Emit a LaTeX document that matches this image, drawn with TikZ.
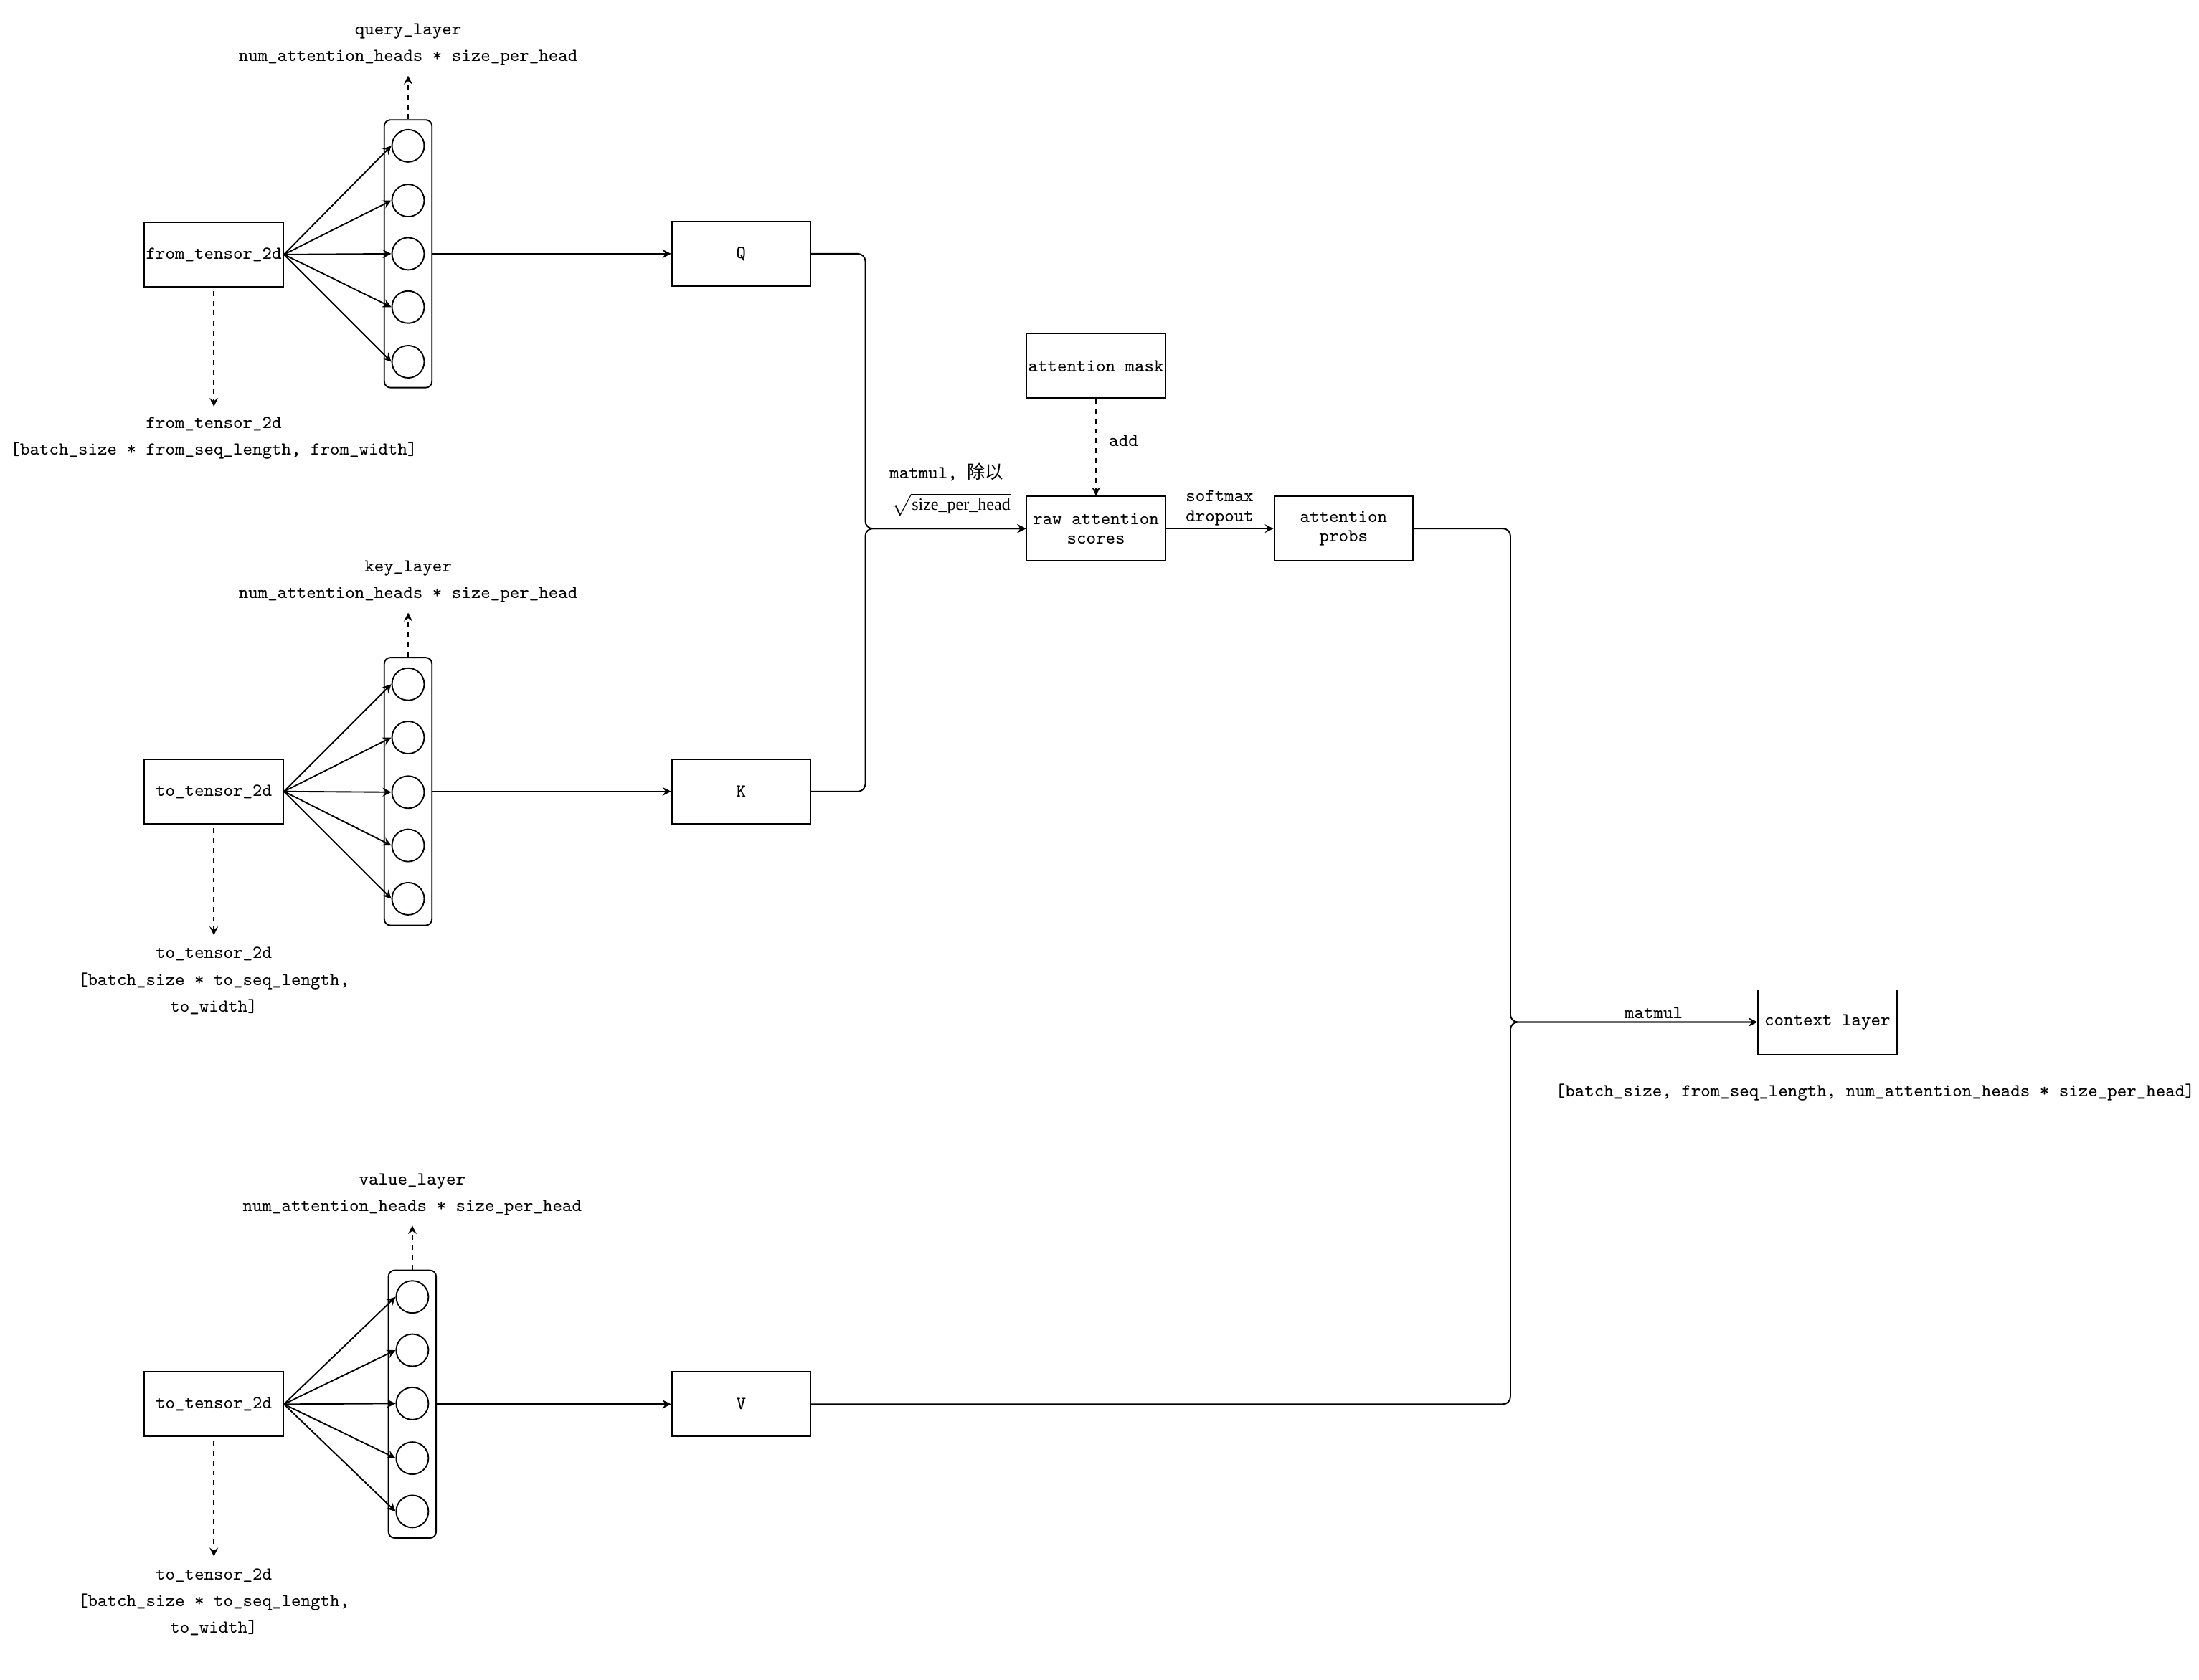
\documentclass[tikz,border=0pt]{standalone}
\usepackage{fontspec}
\usepackage{amsmath}
\newfontfamily\cjk{Noto Sans CJK SC}
\newfontfamily\serif{Liberation Serif}

\begin{document}
\begin{tikzpicture}[x=0.02cm, y=-0.02cm, line width=0.55pt,
                    arrow/.style = {-stealth},
                    dotarrow/.style = {-stealth, dash pattern=on 2pt off 2pt},
                    box/.style = {draw, minimum width=1.98cm, minimum height=0.92cm, inner sep=0pt, align=center, font=\fontsize{7.4}{8}\selectfont\ttfamily},
                    lbl/.style = {align=center, inner sep=0pt, font=\fontsize{7.4}{10.8}\selectfont\ttfamily},
                    tag/.style = {align=center, inner sep=1pt, font=\fontsize{7.4}{8}\selectfont\ttfamily},
                    layer/.style = {draw, rounded corners=2.5pt, minimum width=0.68cm, minimum height=3.82cm, inner sep=0pt},
                    unit/.style = {draw, circle, minimum size=0.46cm, inner sep=0pt}]
                    \useasboundingbox (0,0) rectangle (1568,1198);

                    % query row
                    \node [box] (from) at (152.5,181.5) {from\_tensor\_2d};
                    \node [layer] (ql) at (291,181) {};
                    \node [unit] (q1) at (291,104) {};
                    \node [unit] (q2) at (291,143) {};
                    \node [unit] (q3) at (291,181) {};
                    \node [unit] (q4) at (291,219) {};
                    \node [unit] (q5) at (291,258) {};
                    \node [box] (Q) at (528.5,181) {Q};

                    \draw[arrow] (from.east) -- (q1.west);
                    \draw[arrow] (from.east) -- (q2.west);
                    \draw[arrow] (from.east) -- (q3.west);
                    \draw[arrow] (from.east) -- (q4.west);
                    \draw[arrow] (from.east) -- (q5.west);
                    \draw[arrow] (ql.east) -- (Q.west);

                    \coordinate (qup) at (291,54);
                    \draw[dotarrow] (ql.north) -- (qup);
                    \node [lbl] (qtxt) at (291,31.5) {query\_layer\\num\_attention\_heads * size\_per\_head};
                    \coordinate (fdown) at (152.5,290);
                    \draw[dotarrow, shorten <=1.5pt] (from.south) -- (fdown);
                    \node [lbl] (ftxt) at (152.5,312.5) {from\_tensor\_2d\\{[}batch\_size * from\_seq\_length, from\_width]};

                    % key row
                    \node [box] (tok) at (152.5,564.5) {to\_tensor\_2d};
                    \node [layer] (kl) at (291,564.5) {};
                    \node [unit] (k1) at (291,488) {};
                    \node [unit] (k2) at (291,526) {};
                    \node [unit] (k3) at (291,565) {};
                    \node [unit] (k4) at (291,603) {};
                    \node [unit] (k5) at (291,641) {};
                    \node [box] (K) at (528.5,564.5) {K};

                    \draw[arrow] (tok.east) -- (k1.west);
                    \draw[arrow] (tok.east) -- (k2.west);
                    \draw[arrow] (tok.east) -- (k3.west);
                    \draw[arrow] (tok.east) -- (k4.west);
                    \draw[arrow] (tok.east) -- (k5.west);
                    \draw[arrow] (kl.east) -- (K.west);

                    \coordinate (kup) at (291,437);
                    \draw[dotarrow] (kl.north) -- (kup);
                    \node [lbl] (ktxt) at (291,415) {key\_layer\\num\_attention\_heads * size\_per\_head};
                    \coordinate (kdown) at (152.5,667);
                    \draw[dotarrow, shorten <=1.5pt] (tok.south) -- (kdown);
                    \node [lbl] (tktxt) at (152.5,699.5) {to\_tensor\_2d\\{[}batch\_size * to\_seq\_length,\\to\_width]};

                    % value row
                    \node [box] (tov) at (152.5,1001.5) {to\_tensor\_2d};
                    \node [layer] (vl) at (294,1001.5) {};
                    \node [unit] (v1) at (294,925) {};
                    \node [unit] (v2) at (294,963) {};
                    \node [unit] (v3) at (294,1001) {};
                    \node [unit] (v4) at (294,1040) {};
                    \node [unit] (v5) at (294,1078) {};
                    \node [box] (V) at (528.5,1001.5) {V};

                    \draw[arrow] (tov.east) -- (v1.west);
                    \draw[arrow] (tov.east) -- (v2.west);
                    \draw[arrow] (tov.east) -- (v3.west);
                    \draw[arrow] (tov.east) -- (v4.west);
                    \draw[arrow] (tov.east) -- (v5.west);
                    \draw[arrow] (vl.east) -- (V.west);

                    \coordinate (vup) at (294,874);
                    \draw[dotarrow] (vl.north) -- (vup);
                    \node [lbl] (vtxt) at (294,852) {value\_layer\\num\_attention\_heads * size\_per\_head};
                    \coordinate (vdown) at (152.5,1110);
                    \draw[dotarrow, shorten <=1.5pt] (tov.south) -- (vdown);
                    \node [lbl] (tvtxt) at (152.5,1142.5) {to\_tensor\_2d\\{[}batch\_size * to\_seq\_length,\\to\_width]};

                    % attention
                    \node [box] (mask) at (781.5,261) {attention mask};
                    \node [box] (raw) at (781.5,377) {raw attention\\scores};
                    \node [box] (probs) at (958,377) {attention\\probs};
                    \node [box] (ctx) at (1303,729) {context layer};
                    \node [tag, inner sep=0pt] (scale) at (675,337) {matmul, {\cjk 除以}};
                    \node [tag, inner sep=0pt] (root) at (678,360) {$\sqrt{\text{\serif\fontsize{7}{8}\selectfont size\_per\_head}}$};

                    \coordinate (join) at (617,377);
                    \coordinate (turn) at (1077,729);
                    \draw[arrow, rounded corners=3pt] (Q.east) -| (join) -- (raw.west);
                    \draw[arrow, rounded corners=3pt] (K.east) -| (join) -- (raw.west);
                    \draw[dotarrow] (mask) -- (raw) node[pos=0.43, right=5pt, tag, inner sep=0pt] {add};
                    \draw[arrow] (raw) -- (probs) node[midway, above, tag] {softmax\\dropout};
                    \draw[arrow, rounded corners=3pt] (probs.east) -| (turn) -- (ctx.west) node[pos=0.58, above, tag] {matmul};
                    \draw[arrow, rounded corners=3pt] (V.east) -| (turn) -- (ctx.west);
                    \node [lbl] (ctxdim) at (1337,779) {{[}batch\_size, from\_seq\_length, num\_attention\_heads * size\_per\_head]};
                \end{tikzpicture}
\end{document}
